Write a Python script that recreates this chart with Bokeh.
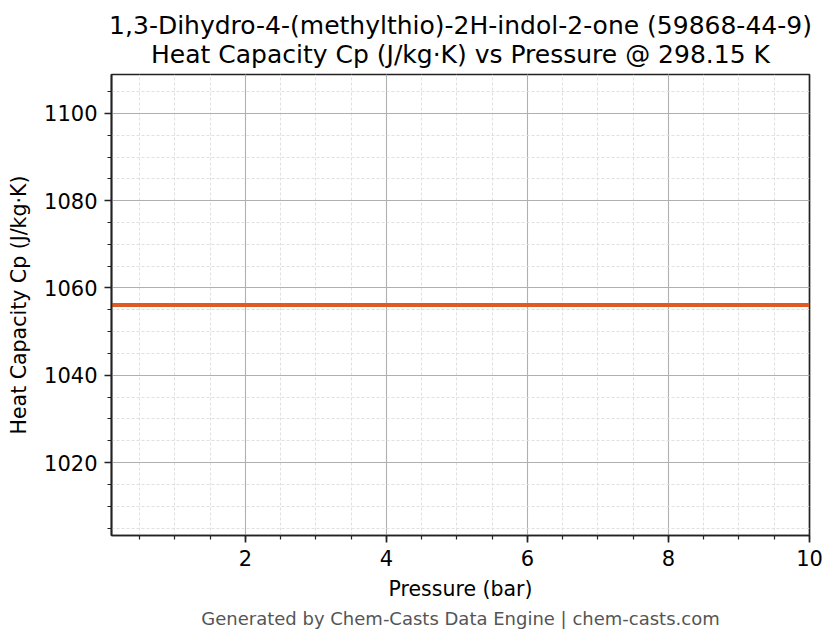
from bokeh.plotting import figure
from bokeh.models import Range1d, SingleIntervalTicker, Title
from bokeh.embed import file_html
from bokeh.resources import INLINE

# data (flat line)
pressure = [0.1, 1, 2, 3, 4, 5, 6, 7, 8, 9, 10]
cp = [1056.1, 1056.1, 1056.1, 1056.1, 1056.1, 1056.1, 1056.1, 1056.1, 1056.1, 1056.1, 1056.1]

title_lines = ["1,3-Dihydro-4-(methylthio)-2H-indol-2-one (59868-44-9)",
               "Heat Capacity Cp (J/kg\u00b7K) vs Pressure @ 298.15 K"]

FONT = "DejaVu Sans"

p = figure(width=828, height=636, output_backend="svg", toolbar_location=None,
           x_range=Range1d(0.1, 10), y_range=Range1d(1003.3, 1108.9),
           min_border_left=111, min_border_right=19, min_border_top=74, min_border_bottom=101)

t = Title(text="\n".join(title_lines), align="center", text_align="center",
          text_font=FONT, text_font_size="25px", text_font_style="normal", text_color="black",
          text_line_height=1.0, standoff=12)
p.add_layout(t, "above")

foot = Title(text="Generated by Chem-Casts Data Engine | chem-casts.com", align="center",
             text_font=FONT, text_font_size="18px", text_font_style="normal", text_color="#555555",
             standoff=5)
p.add_layout(foot, "below")

p.line(pressure, cp, line_color="#E05A24", line_width=4)

p.xaxis.ticker = SingleIntervalTicker(interval=2, num_minor_ticks=4)
p.yaxis.ticker = SingleIntervalTicker(interval=20, num_minor_ticks=4)

p.xaxis.axis_label = "Pressure (bar)"
p.yaxis.axis_label = "Heat Capacity Cp (J/kg\u00b7K)"

for ax in (p.xaxis, p.yaxis):
    ax.axis_label_text_font = FONT
    ax.axis_label_text_font_size = "20.5px"
    ax.axis_label_text_font_style = "normal"
    ax.axis_label_text_color = "black"
    ax.major_label_text_font = FONT
    ax.major_label_text_font_size = "21px"
    ax.major_label_text_color = "black"
    ax.axis_line_color = "#222222"
    ax.axis_line_width = 1.7
    ax.major_tick_line_color = "#222222"
    ax.major_tick_line_width = 1.7
    ax.minor_tick_line_color = "#222222"
    ax.minor_tick_line_width = 1.2
    ax.major_tick_out = 7
    ax.major_tick_in = 0
    ax.minor_tick_out = 4
    ax.minor_tick_in = 0
p.xaxis.major_label_standoff = 7
p.yaxis.major_label_standoff = 7
p.xaxis.axis_label_standoff = 8
p.yaxis.axis_label_standoff = 10

p.outline_line_color = "#222222"
p.outline_line_width = 1.7
p.outline_line_alpha = 1

for g in (p.xgrid, p.ygrid):
    g.grid_line_color = "#b0b0b0"
    g.grid_line_width = 1.1
    g.minor_grid_line_color = "#dcdcdc"
    g.minor_grid_line_width = 0.9
    g.minor_grid_line_dash = "3 2"

open("out.html", "w").write(file_html(p, INLINE))
